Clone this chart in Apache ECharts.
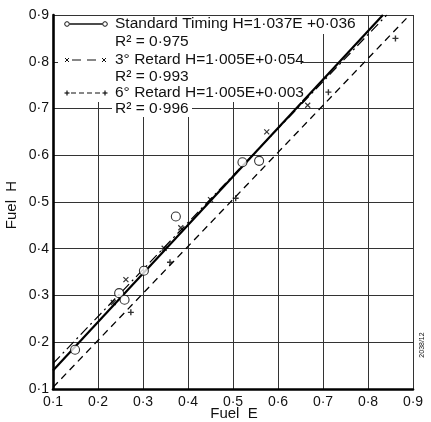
<!DOCTYPE html>
<html>
<head>
<meta charset="utf-8">
<script src="https://cdn.jsdelivr.net/npm/echarts@6/dist/echarts.min.js"></script>
<style>
  html, body { margin: 0; padding: 0; background: #fff; }
  #chart { width: 431px; height: 422px; }
</style>
</head>
<body>
<div id="chart"></div>
<script>
// Measured fuel H against fuel E for three ignition timings
var stdE = [0.149, 0.247, 0.259, 0.302, 0.373, 0.521, 0.558];
var stdH = [0.184, 0.305, 0.291, 0.353, 0.469, 0.585, 0.588];
var r3E = [0.234, 0.262, 0.347, 0.384, 0.450, 0.575, 0.666];
var r3H = [0.285, 0.334, 0.401, 0.445, 0.505, 0.650, 0.707];
var r6E = [0.273, 0.360, 0.506, 0.712, 0.861];
var r6H = [0.264, 0.371, 0.508, 0.735, 0.850];

// Regression fits H = a*E + b
var fitSlope = [1.037, 1.005, 1.005];
var fitIntercept = [0.036, 0.054, 0.003];
var fitR2 = ['0·975', '0·993', '0·996'];
var fitNames = ['Standard Timing', '3° Retard', '6° Retard'];

var axisMin = 0.1, axisMax = 0.9, axisStep = 0.1;

function dec(v) { return v.toFixed(1).replace('.', '·'); }
function dec3(v) { return v.toFixed(3).replace('.', '·'); }
function pairs(xs, ys) { return xs.map(function (x, i) { return [x, ys[i]]; }); }

// fitted line clipped to the plotting square
function fitLine(k) {
  var a = fitSlope[k], b = fitIntercept[k];
  var e0 = axisMin, h0 = a * e0 + b;
  var e1 = (axisMax - b) / a, h1 = axisMax;
  if (e1 > axisMax) { e1 = axisMax; h1 = a * e1 + b; }
  return [[e0, h0], [e1, h1]];
}

var crossPath = 'path://M0,0L10,10M10,0L0,10';
var plusPath = 'path://M5,0L5,10M0,5L10,5';

var font = 'Liberation Sans, DejaVu Sans, sans-serif';
var ink = '#111';

var chart = echarts.init(document.getElementById('chart'), null, { renderer: 'canvas' });

// legend drawn as graphics
var g = [];
var lx0 = 67, lx1 = 105, tx = 115;
var rowY = [24, 42, 60, 77, 93, 109];
g.push({ type: 'rect', shape: { x: 58, y: 16, width: 304, height: 18 }, style: { fill: '#fff' }, z: 50 });
g.push({ type: 'rect', shape: { x: 58, y: 16, width: 244, height: 86 }, style: { fill: '#fff' }, z: 50 });
g.push({ type: 'rect', shape: { x: 112, y: 100, width: 80, height: 17 }, style: { fill: '#fff' }, z: 50 });

function mkText(x, y, s) {
  return { type: 'text', x: x, y: y, z: 60,
    style: { text: s, font: '15.5px ' + font, fill: ink, textVerticalAlign: 'middle' } };
}
// Row 1: circle - solid - circle
g.push({ type: 'line', z: 60, shape: { x1: lx0 + 2.5, y1: rowY[0], x2: lx1 - 2.5, y2: rowY[0] }, style: { stroke: ink, lineWidth: 1.6 } });
g.push({ type: 'circle', z: 60, shape: { cx: lx0, cy: rowY[0], r: 2.3 }, style: { stroke: ink, fill: '#fff', lineWidth: 1 } });
g.push({ type: 'circle', z: 60, shape: { cx: lx1, cy: rowY[0], r: 2.3 }, style: { stroke: ink, fill: '#fff', lineWidth: 1 } });
// Row 3: cross - dash - cross
g.push({ type: 'line', z: 60, shape: { x1: lx0 + 5, y1: rowY[2], x2: lx1 - 4, y2: rowY[2] }, style: { stroke: ink, lineWidth: 1.2, lineDash: [9, 6] } });
function crossAt(x, y) {
  return { type: 'group', z: 60, children: [
    { type: 'line', z: 60, shape: { x1: x - 2, y1: y - 2, x2: x + 2, y2: y + 2 }, style: { stroke: ink, lineWidth: 1 } },
    { type: 'line', z: 60, shape: { x1: x - 2, y1: y + 2, x2: x + 2, y2: y - 2 }, style: { stroke: ink, lineWidth: 1 } } ] };
}
function plusAt(x, y) {
  return { type: 'group', z: 60, children: [
    { type: 'line', z: 60, shape: { x1: x - 2.5, y1: y, x2: x + 2.5, y2: y }, style: { stroke: ink, lineWidth: 1.2 } },
    { type: 'line', z: 60, shape: { x1: x, y1: y - 2.5, x2: x, y2: y + 2.5 }, style: { stroke: ink, lineWidth: 1.2 } } ] };
}
g.push(crossAt(lx0, rowY[2]));
g.push(crossAt(lx1 - 1, rowY[2]));
// Row 5: plus - short dash - plus
g.push({ type: 'line', z: 60, shape: { x1: lx0 + 4, y1: rowY[4], x2: lx1 - 4, y2: rowY[4] }, style: { stroke: ink, lineWidth: 1.2, lineDash: [5, 3] } });
g.push(plusAt(lx0, rowY[4]));
g.push(plusAt(lx1, rowY[4]));

for (var k = 0; k < 3; k++) {
  g.push(mkText(tx, rowY[2 * k], fitNames[k] + ' H=' + dec3(fitSlope[k]) + 'E' + (k === 0 ? ' +' : '+') + dec3(fitIntercept[k])));
  g.push(mkText(tx, rowY[2 * k + 1], 'R² = ' + fitR2[k]));
}

// axis titles and reference number
g.push({ type: 'text', x: 234, y: 414, z: 60,
  style: { text: 'Fuel  E', font: '15px ' + font, fill: ink, textAlign: 'center', textVerticalAlign: 'middle' } });
g.push({ type: 'text', x: 12, y: 205, rotation: Math.PI / 2, z: 60,
  style: { text: 'Fuel  H', font: '15px ' + font, fill: ink, textAlign: 'center', textVerticalAlign: 'middle' } });
g.push({ type: 'text', x: 422, y: 345, rotation: Math.PI / 2, z: 60,
  style: { text: '2038/12', font: '7px ' + font, fill: ink, textAlign: 'center', textVerticalAlign: 'middle' } });

function axis(isX) {
  return {
    type: 'value', min: axisMin, max: axisMax, interval: axisStep,
    axisLine: { show: true, onZero: false, lineStyle: { color: '#000', width: 2.6 } },
    axisTick: { show: false },
    splitLine: { show: true, lineStyle: { color: '#333', width: 1 } },
    axisLabel: {
      formatter: dec, color: ink, fontSize: 14, fontFamily: font,
      margin: isX ? 6 : 4, showMinLabel: true, showMaxLabel: true
    }
  };
}

var option = {
  backgroundColor: '#fff',
  animation: false,
  grid: { left: 53, right: 18, top: 15, bottom: 33, containLabel: false },
  xAxis: axis(true),
  yAxis: axis(false),
  graphic: g,
  series: [
    { type: 'line', data: fitLine(0), showSymbol: false, symbol: 'none',
      lineStyle: { color: '#000', width: 2.2 }, z: 3 },
    { type: 'line', data: fitLine(1), showSymbol: false, symbol: 'none',
      lineStyle: { color: '#000', width: 1.2, type: [10, 4, 2, 4] }, z: 3 },
    { type: 'line', data: fitLine(2), showSymbol: false, symbol: 'none',
      lineStyle: { color: '#000', width: 1.3, type: [7, 5] }, z: 3 },
    { type: 'scatter', data: pairs(stdE, stdH), symbol: 'circle', symbolSize: 9,
      itemStyle: { color: '#fff', borderColor: '#000', borderWidth: 1.1 }, z: 4 },
    { type: 'scatter', data: pairs(r3E, r3H), symbol: crossPath, symbolSize: 5,
      itemStyle: { color: 'none', borderColor: '#000', borderWidth: 1.2 }, z: 4 },
    { type: 'scatter', data: pairs(r6E, r6H), symbol: plusPath, symbolSize: 6,
      itemStyle: { color: 'none', borderColor: '#000', borderWidth: 1.4 }, z: 4 }
  ]
};
chart.setOption(option);
</script>
</body>
</html>
